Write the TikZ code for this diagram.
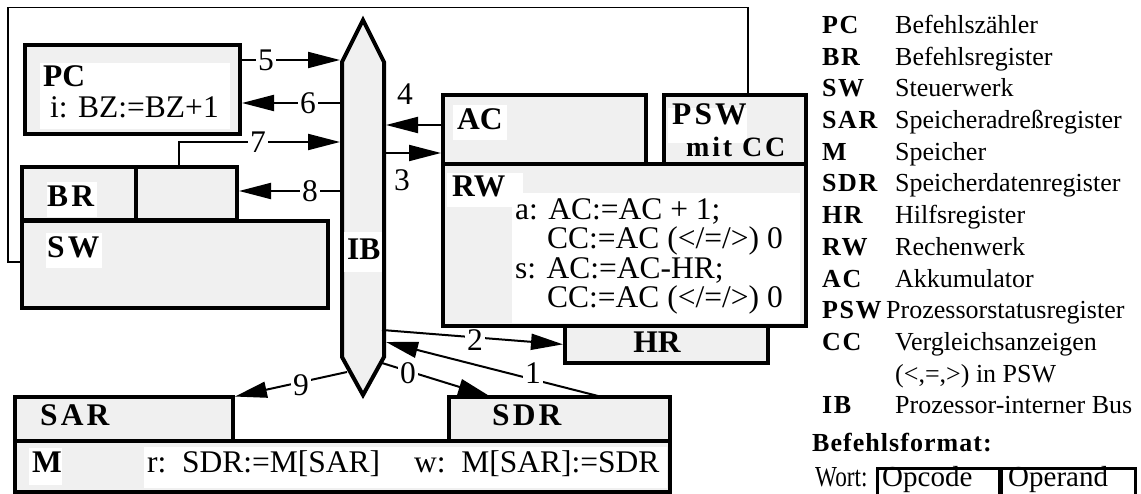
\documentclass[tikz,border=0pt]{standalone}
\usepackage{fontspec}
\setmainfont{Liberation Serif}
\newfontfamily\spc[LetterSpace=10]{Liberation Serif}
\newfontfamily\spcl[LetterSpace=6]{Liberation Serif}
\newfontfamily\spcs[LetterSpace=4]{Liberation Serif}
\newfontfamily\cond[FakeStretch=0.8]{Liberation Serif}
\usetikzlibrary{arrows.meta}
\definecolor{boxgray}{RGB}{240,240,240}
\newcommand\fbig{\fontsize{31.5}{31.5}\selectfont}
\newcommand\fleg{\fontsize{26}{26}\selectfont}
\begin{document}
\begin{tikzpicture}[x=1pt,y=-1pt,
  box/.style={draw,line width=4pt,fill=boxgray,inner sep=0pt,outer sep=0pt,anchor=north west},
  wbox/.style={draw,line width=3pt,inner sep=0pt,outer sep=0pt,anchor=north west},
  txt/.style={anchor=base west,inner sep=0pt,font=\fbig},
  tag/.style={anchor=base west,inner sep=0pt,font=\fbig\bfseries},
  stag/.style={anchor=base west,inner sep=0pt,font=\fbig\spc\bfseries},
  leg/.style={anchor=base west,inner sep=0pt,font=\fleg},
  legtag/.style={anchor=base west,inner sep=0pt,font=\fleg\spcl\bfseries},
  conn/.style={line width=2pt},
  arr/.style={conn,-{Triangle[length=32pt,width=16pt]}},
  lbl/.style={fill=white,inner xsep=2pt,inner ysep=0pt,anchor=west,font=\fbig},
  num/.style={inner sep=0pt,font=\fbig},
  fb/.style={line width=1.6pt}
]
\useasboundingbox (0,0) rectangle (1141,494);

% ---- boxes
\node[box,minimum width=215pt,minimum height=89pt] (pc) at (25,45) {};
\node[box,minimum width=215pt,minimum height=53pt] (br) at (22,167) {};
\node[box,minimum width=306pt,minimum height=87pt] (sw) at (22,221) {};
\draw[line width=4pt] ([xshift=114pt]br.north west) -- ([xshift=114pt]br.south west);
\node[box,minimum width=363pt,minimum height=162pt] (rw) at (443,164) {};
\node[box,minimum width=203pt,minimum height=69pt] (ac) at (443,95) {};
\node[box,minimum width=142pt,minimum height=69pt] (psw) at (664,95) {};
\node[box,minimum width=203pt,minimum height=37pt] (hr) at (565,326) {};
\node[box,minimum width=655pt,minimum height=51pt] (m) at (15,441) {};
\node[box,minimum width=218pt,minimum height=44pt] (sar) at (15,397) {};
\node[box,minimum width=221pt,minimum height=44pt] (sdr) at (449,397) {};

% ---- internal bus
\draw[line width=4pt,fill=boxgray] (342,62) -- (363,20) -- (384,62) -- (384,357) -- (363,395) -- (342,357) -- cycle;

% ---- white text backgrounds
\fill[white] (40,63) rectangle (230,129);
\fill[white] (47,182) rectangle (97,217);
\fill[white] (46,233) rectangle (102,268);
\fill[white] (344,232) rectangle (382,272);
\fill[white] (453,105) rectangle (507,140);
\fill[white] (668,108) rectangle (747,143);
\fill[white] (447,173) rectangle (523,207);
\fill[white] (512,193) rectangle (800,323);
\fill[white] (29,448) rectangle (62,485);
\fill[white] (144,447) rectangle (667,488);

% ---- texts in boxes
\node[tag] (tpc) at (43,87) {PC};
\node[txt] (tpci) at (50,118) {i: BZ:=BZ+1};
\node[stag] (tbr) at (47,207) {BR};
\node[stag] (tsw) at (47,258) {SW};
\node[tag] (tib) at (347,260) {IB};
\node[tag] (tac) at (457,130) {AC};
\node[stag] (tpsw) at (672,125) {PSW};
\node[anchor=base west,inner sep=0pt,font=\fontsize{28}{28}\selectfont\spc\bfseries] (tmit) at (686,157) {mit CC};
\node[tag] (trw) at (452,197) {RW};
\node[txt] (ta1) at (515,220) {a: AC:=AC + 1;};
\node[txt] (ta2) at (547,249) {CC:=AC (</=/>) 0};
\node[txt] (ts1) at (515,279) {s: AC:=AC-HR;};
\node[txt] (ts2) at (547,308) {CC:=AC (</=/>) 0};
\node[tag,anchor=base] (thr) at (657,353) {HR};
\node[stag] (tsar) at (40,425) {SAR};
\node[stag] (tsdr) at (492,425) {SDR};
\node[tag] (tm) at (32,472) {M};
\node[txt] (tr) at (147,472) {r:\ \ SDR:=M[SAR]};
\node[txt] (tw) at (414,472) {w:\ \ M[SAR]:=SDR};

% ---- feedback line PSW -> SW
\coordinate (fa) at (748,7.5);
\coordinate (fbb) at (8,7.5);
\coordinate (fc) at (8,262);
\draw[fb] (fa |- psw.north) -- (fa) -- (fbb) -- (fc) -- (sw.west |- fc);

% ---- connectors
\coordinate (c5) at (340,60);
\coordinate (c6) at (340,103);
\coordinate (c7a) at (179,142);
\coordinate (c7) at (340,142);
\coordinate (c8) at (340,191);
\coordinate (c4) at (386,125);
\coordinate (c3) at (386,153);
\coordinate (c2) at (382,330);
\coordinate (c1) at (386,342);
\coordinate (c1s) at (602,0);
\coordinate (c0) at (382,363);
\coordinate (c0e) at (492,0);
\coordinate (c9) at (347,372);

\draw[arr] (pc.east |- c5) -- (c5);
\draw[arr,shorten >=2pt] (c6) -- (pc.east |- c6);
\draw[arr] (c7a |- br.north) -- (c7a) -- (c7);
\draw[arr,shorten >=2pt] (c8) -- (br.east |- c8);
\draw[arr] (ac.west |- c4) -- (c4);
\draw[arr,shorten >=2pt] (c3) -- (ac.west |- c3);
\draw[arr,shorten >=2pt] (c2) -- (hr.west);
\draw[arr] (c1s |- sdr.north) -- (c1);
\draw[arr,shorten >=2pt] (c0) -- (c0e |- sdr.north);
\draw[arr,shorten >=2pt] (c9) -- (sar.north east);

% ---- connector labels
\node[lbl] (l5) at (256,60) {5\hspace{15pt}};
\node[lbl] (l6) at (298,103) {6};
\node[lbl] (l7) at (248,142) {7\hspace{3pt}};
\node[lbl] (l8) at (300,191) {8\hspace{4pt}};
\node[num] (l4) at (405,94) {4};
\node[num] (l3) at (402,180) {3};
\node[lbl,minimum height=22pt] (l2) at (465,340) {2\hspace{18pt}};
\node[lbl,minimum height=32pt] (l1) at (523,373) {1\hspace{15pt}};
\node[lbl,minimum height=24pt] (l0) at (398,373) {0\hspace{20pt}};
\node[lbl,minimum height=22pt] (l9) at (291,385) {9\hspace{3pt}};

% ---- legend
\node[legtag] (g1) at (822,33.5) {PC};   \node[leg] (d1) at (895,33.5) {Befehlszähler};
\node[legtag] (g2) at (822,65.2) {BR};   \node[leg] (d2) at (895,65.2) {Befehlsregister};
\node[legtag] (g3) at (822,96.9) {SW};   \node[leg] (d3) at (895,96.9) {Steuerwerk};
\node[legtag] (g4) at (822,128.6) {SAR}; \node[leg] (d4) at (895,128.6) {Speicheradreßregister};
\node[legtag] (g5) at (822,160.3) {M};   \node[leg] (d5) at (895,160.3) {Speicher};
\node[legtag] (g6) at (822,192) {SDR};   \node[leg] (d6) at (895,192) {Speicherdatenregister};
\node[legtag] (g7) at (822,223.7) {HR};  \node[leg] (d7) at (895,223.7) {Hilfsregister};
\node[legtag] (g8) at (822,255.4) {RW};  \node[leg] (d8) at (895,255.4) {Rechenwerk};
\node[legtag] (g9) at (822,287.1) {AC};  \node[leg] (d9) at (895,287.1) {Akkumulator};
\node[legtag] (g10) at (822,318.8) {PSW}; \node[leg] (d10) at (886,318.8) {Prozessorstatusregister};
\node[legtag] (g11) at (822,350.5) {CC}; \node[leg] (d11) at (895,350.5) {Vergleichsanzeigen};
\node[leg] (d12) at (895,382.2) {(<,=,>) in PSW};
\node[legtag] (g13) at (822,413.9) {IB}; \node[leg] (d13) at (895,413.9) {Prozessor-interner Bus};
\node[anchor=base west,inner sep=0pt,font=\fleg\spcs\bfseries] (bf) at (812,451) {Befehlsformat:};
\node[anchor=base west,inner sep=0pt,font=\fontsize{29}{29}\selectfont\cond] (wort) at (815,486) {Wort:};
\node[wbox,minimum width=123pt,minimum height=30pt] (opc) at (877,468) {};
\node[wbox,minimum width=135pt,minimum height=30pt] (opd) at (1000,468) {};
\draw[line width=5pt] (opd.north west) -- (opd.south west);
\node[anchor=base west,inner sep=0pt,font=\fontsize{29}{29}\selectfont] (topc) at (882,486.5) {Opcode};
\node[anchor=base west,inner sep=0pt,font=\fontsize{29}{29}\selectfont] (topd) at (1008,486.5) {Operand};
\end{tikzpicture}
\end{document}
